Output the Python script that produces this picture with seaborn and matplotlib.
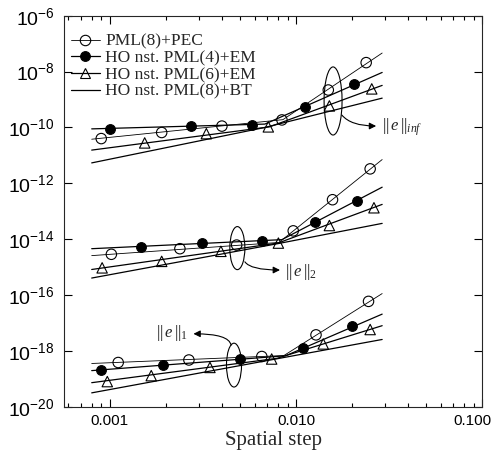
import matplotlib
matplotlib.use('Agg')
import matplotlib.pyplot as plt
import matplotlib.ticker as mtick
import matplotlib.transforms as mtrans
from matplotlib.lines import Line2D
from matplotlib.patches import Ellipse
import pandas as pd
import seaborn as sns

# ── Data ─────────────────────────────────────────────────────────────────────
SERIES = ['PML(8)+PEC', 'HO nst. PML(4)+EM', 'HO nst. PML(6)+EM', 'HO nst. PML(8)+BT']
NORMS = ['inf', '2', '1']

# ||e||_inf
PEC_INF_LX = [0.0008, 0.0085, 0.029]
PEC_INF_LY = [3.8e-11, 1.9e-10, 4.6e-8]
PEC_INF_MX = [0.0009, 0.0019, 0.004, 0.0084, 0.0149, 0.0238]
PEC_INF_MY = [4.0e-11, 6.6e-11, 1.12e-10, 1.86e-10, 2.19e-9, 2.09e-8]
EM4_INF_LX = [0.0008, 0.0068, 0.029]
EM4_INF_LY = [8.9e-11, 1.32e-10, 9.3e-9]
EM4_INF_MX = [0.001, 0.00272, 0.00578, 0.0112, 0.0205]
EM4_INF_MY = [9.1e-11, 1.1e-10, 1.26e-10, 5.2e-10, 3.6e-9]
EM6_INF_LX = [0.0008, 0.0072, 0.029]
EM6_INF_LY = [1.55e-11, 1.05e-10, 3.2e-9]
EM6_INF_MX = [0.00154, 0.0033, 0.0071, 0.0151, 0.0255]
EM6_INF_MY = [2.8e-11, 6.0e-11, 1.05e-10, 5.9e-10, 2.4e-9]
BT_INF_LX = [0.0008, 0.0068, 0.029]
BT_INF_LY = [5.4e-12, 1.0e-10, 1.12e-9]

# ||e||_2
PEC_L2_LX = [0.0008, 0.0081, 0.029]
PEC_L2_LY = [2.6e-15, 7.7e-15, 7.1e-12]
PEC_L2_MX = [0.00102, 0.00238, 0.0048, 0.00966, 0.0157, 0.025]
PEC_L2_MY = [2.9e-15, 4.6e-15, 6.2e-15, 2.0e-14, 2.6e-13, 3.3e-12]
EM4_L2_LX = [0.0008, 0.0084, 0.029]
EM4_L2_LY = [4.6e-15, 9.7e-15, 7.3e-13]
EM4_L2_MX = [0.00148, 0.00313, 0.00655, 0.01265, 0.0212]
EM4_L2_MY = [5.3e-15, 7.1e-15, 8.4e-15, 4.0e-14, 2.4e-13]
EM6_L2_LX = [0.0008, 0.008, 0.029]
EM6_L2_LY = [8.3e-16, 7.3e-15, 1.77e-13]
EM6_L2_MX = [0.00091, 0.0019, 0.00395, 0.00804, 0.0151, 0.0262]
EM6_L2_MY = [9.5e-16, 1.62e-15, 3.7e-15, 7.3e-15, 3.1e-14, 1.34e-13]
BT_L2_LX = [0.0008, 0.0081, 0.029]
BT_L2_LY = [4.1e-16, 7.1e-15, 3.7e-14]

# ||e||_1
PEC_L1_LX = [0.0008, 0.0086, 0.029]
PEC_L1_LY = [3.6e-19, 6.9e-19, 1.14e-16]
PEC_L1_MX = [0.00111, 0.00266, 0.00655, 0.0128, 0.0245]
PEC_L1_MY = [3.9e-19, 4.8e-19, 6.4e-19, 3.8e-18, 6.0e-17]
EM4_L1_LX = [0.0008, 0.0088, 0.029]
EM4_L1_LY = [2.0e-19, 6.8e-19, 2.1e-17]
EM4_L1_MX = [0.000895, 0.00194, 0.005, 0.01086, 0.0199]
EM4_L1_MY = [2.1e-19, 3.2e-19, 5.1e-19, 1.25e-18, 7.6e-18]
EM6_L1_LX = [0.0008, 0.0079, 0.029]
EM6_L1_LY = [7.4e-20, 5.5e-19, 8.1e-18]
EM6_L1_MX = [0.00097, 0.00167, 0.00345, 0.0074, 0.014, 0.025]
EM6_L1_MY = [8.1e-20, 1.32e-19, 2.6e-19, 5.2e-19, 1.8e-18, 5.9e-18]
BT_L1_LX = [0.0008, 0.0079, 0.029]
BT_L1_LY = [3.2e-20, 5.3e-19, 2.6e-18]

Y_TICKS = [1e-6, 1e-8, 1e-10, 1e-12, 1e-14, 1e-16, 1e-18, 1e-20]
Y_TICK_LABELS = [r'$\mathsf{10^{-6}}$', r'$\mathsf{10^{-8}}$', r'$\mathsf{10^{-10}}$',
                 r'$\mathsf{10^{-12}}$', r'$\mathsf{10^{-14}}$', r'$\mathsf{10^{-16}}$',
                 r'$\mathsf{10^{-18}}$', r'$\mathsf{10^{-20}}$']
X_TICKS = [0.001, 0.01, 0.1]
X_TICK_LABELS = ['0.001', '0.010', '0.100']

# ── Tidy tables ──────────────────────────────────────────────────────────────
line_src = [
    (SERIES[0], 'inf', PEC_INF_LX, PEC_INF_LY), (SERIES[1], 'inf', EM4_INF_LX, EM4_INF_LY),
    (SERIES[2], 'inf', EM6_INF_LX, EM6_INF_LY), (SERIES[3], 'inf', BT_INF_LX, BT_INF_LY),
    (SERIES[0], '2', PEC_L2_LX, PEC_L2_LY), (SERIES[1], '2', EM4_L2_LX, EM4_L2_LY),
    (SERIES[2], '2', EM6_L2_LX, EM6_L2_LY), (SERIES[3], '2', BT_L2_LX, BT_L2_LY),
    (SERIES[0], '1', PEC_L1_LX, PEC_L1_LY), (SERIES[1], '1', EM4_L1_LX, EM4_L1_LY),
    (SERIES[2], '1', EM6_L1_LX, EM6_L1_LY), (SERIES[3], '1', BT_L1_LX, BT_L1_LY),
]
mark_src = [
    (SERIES[0], 'inf', PEC_INF_MX, PEC_INF_MY), (SERIES[1], 'inf', EM4_INF_MX, EM4_INF_MY),
    (SERIES[2], 'inf', EM6_INF_MX, EM6_INF_MY),
    (SERIES[0], '2', PEC_L2_MX, PEC_L2_MY), (SERIES[1], '2', EM4_L2_MX, EM4_L2_MY),
    (SERIES[2], '2', EM6_L2_MX, EM6_L2_MY),
    (SERIES[0], '1', PEC_L1_MX, PEC_L1_MY), (SERIES[1], '1', EM4_L1_MX, EM4_L1_MY),
    (SERIES[2], '1', EM6_L1_MX, EM6_L1_MY),
]


def to_frame(src):
    rows = []
    for label, norm, xs, ys in src:
        for x, y in zip(xs, ys):
            rows.append({'series': label, 'norm': norm, 'x': x, 'y': y})
    return pd.DataFrame(rows)


lines = to_frame(line_src)
marks = to_frame(mark_src)

STYLE = {
    SERIES[0]: dict(lw=0.6, marker='o', fc='none', ms=7.5),
    SERIES[1]: dict(lw=0.9, marker='o', fc='black', ms=7.0),
    SERIES[2]: dict(lw=0.9, marker='^', fc='none', ms=7.5),
    SERIES[3]: dict(lw=0.9, marker=None, fc='none', ms=0),
}

# ── Style ────────────────────────────────────────────────────────────────────
sns.set_style('ticks')
plt.rcParams.update({
    'font.family': 'Liberation Serif',
    'mathtext.fontset': 'custom',
    'mathtext.rm': 'Liberation Serif',
    'mathtext.it': 'Liberation Serif:italic',
    'mathtext.sf': 'Liberation Sans',
    'axes.linewidth': 0.8,
    'xtick.direction': 'in',
    'ytick.direction': 'in',
})

fig = plt.figure(figsize=(4.93, 4.5), dpi=100)
ax = fig.add_axes([0.1304, 0.0956, 0.8479, 0.8696])
ax.set_xscale('log')
ax.set_yscale('log')

for (label, norm), grp in lines.groupby(['series', 'norm'], sort=False):
    sns.lineplot(data=grp, x='x', y='y', color='black', lw=STYLE[label]['lw'],
                 sort=False, estimator=None, legend=False, ax=ax)

for (label, norm), grp in marks.groupby(['series', 'norm'], sort=False):
    st = STYLE[label]
    sns.scatterplot(data=grp, x='x', y='y', marker=st['marker'], s=st['ms'] ** 2,
                    facecolors=st['fc'], edgecolor='black', linewidth=0.8,
                    legend=False, zorder=3, ax=ax)

ax.set_xlim(0.00057, 0.1)
ax.set_ylim(1e-20, 1e-6)

ax.yaxis.set_major_locator(mtick.FixedLocator(Y_TICKS))
ax.yaxis.set_major_formatter(mtick.FixedFormatter(Y_TICK_LABELS))
ax.yaxis.set_minor_locator(mtick.NullLocator())
ax.xaxis.set_major_locator(mtick.FixedLocator(X_TICKS))
ax.xaxis.set_major_formatter(mtick.FixedFormatter(X_TICK_LABELS))
ax.xaxis.set_minor_locator(mtick.LogLocator(base=10, subs=range(2, 10), numticks=20))
ax.xaxis.set_minor_formatter(mtick.NullFormatter())
ax.tick_params(which='both', direction='in', top=True, right=True, width=0.8, colors='black')
ax.tick_params(which='major', length=6, pad=5)
ax.tick_params(which='minor', length=3)
ax.tick_params(axis='x', labelsize=11)
ax.tick_params(axis='y', labelsize=14, pad=7)
for lab in ax.get_xticklabels():
    lab.set_family('Liberation Sans')
# last x label sits partly left of its tick so it stays inside the figure
ax.get_xticklabels()[-1].set_transform(
    ax.get_xticklabels()[-1].get_transform()
    + mtrans.ScaledTranslation(-10 / 100, 0, fig.dpi_scale_trans))

ax.set_xlabel('Spatial step', fontsize=15, labelpad=2)
ax.set_ylabel('')

# ── Legend ───────────────────────────────────────────────────────────────────
handles = [Line2D([], [], color='black', lw=STYLE[s]['lw'], marker=STYLE[s]['marker'],
                  mfc=STYLE[s]['fc'], mec='black', ms=STYLE[s]['ms'], mew=0.8)
           for s in SERIES]
ax.legend(handles, SERIES, loc='upper left', bbox_to_anchor=(-0.018, 0.99), frameon=False,
          fontsize=12.5, handlelength=1.7, handletextpad=0.3, labelspacing=0.03,
          borderaxespad=0.6, borderpad=0.2)

# ── Ellipses, arrows and norm labels ─────────────────────────────────────────
for (cx, cy, w, h) in [(0.643, 0.782, 0.043, 0.174), (0.414, 0.406, 0.036, 0.110),
                       (0.406, 0.107, 0.036, 0.112)]:
    ax.add_patch(Ellipse((cx, cy), w, h, transform=ax.transAxes, fill=False,
                         lw=0.8, color='black'))

arrow_kw = dict(arrowstyle='-|>', color='black', lw=0.8, mutation_scale=10,
                shrinkA=0, shrinkB=0)
ax.annotate('', xy=(0.746, 0.718), xytext=(0.664, 0.746), xycoords='axes fraction',
            arrowprops=dict(connectionstyle='angle3,angleA=-50,angleB=0', **arrow_kw))
ax.annotate('', xy=(0.516, 0.350), xytext=(0.432, 0.371), xycoords='axes fraction',
            arrowprops=dict(connectionstyle='angle3,angleA=-55,angleB=0', **arrow_kw))
ax.annotate('', xy=(0.309, 0.187), xytext=(0.399, 0.158), xycoords='axes fraction',
            arrowprops=dict(connectionstyle='angle3,angleA=100,angleB=0', **arrow_kw))

ax.text(0.759, 0.716, r'$||\,e\,||_{inf}$', transform=ax.transAxes,
        ha='left', va='center', fontsize=12)
ax.text(0.528, 0.346, r'$||\,e\,||_{2}$', transform=ax.transAxes,
        ha='left', va='center', fontsize=12)
ax.text(0.296, 0.190, r'$||\,e\,||_{1}$', transform=ax.transAxes,
        ha='right', va='center', fontsize=12)

fig.savefig('out.png', dpi=100)
